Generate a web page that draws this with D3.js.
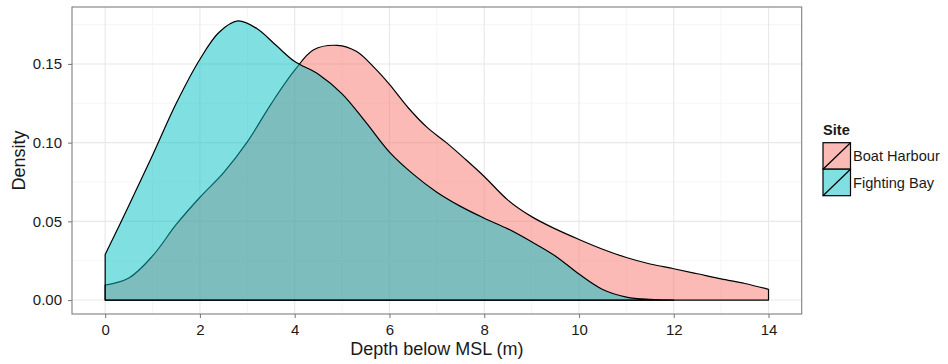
<!DOCTYPE html>
<html>
<head>
<meta charset="utf-8">
<script src="https://cdn.jsdelivr.net/npm/d3@7"></script>
<style>
  body { margin: 0; background: #fff; }
  text { font-family: "Liberation Sans", Arial, sans-serif; fill: #1a1a1a; }
</style>
</head>
<body>
<svg id="chart" width="948" height="364"></svg>
<script>
// density estimates
const sites = ["Boat Harbour", "Fighting Bay"];
const siteColours = ["#F8766D", "#00BFC4"];

const depthBH = [0, 0.5, 1, 1.5, 2, 2.5, 3, 3.5, 4, 4.4, 4.9, 5.3, 5.7, 6, 6.4, 6.8, 7.2, 7.6, 8, 8.5, 9, 9.5, 10, 10.5, 11, 11.5, 12, 12.5, 13, 13.5, 14];
const densBH = [0.0095, 0.014, 0.028, 0.048, 0.0653, 0.081, 0.1005, 0.1245, 0.146, 0.159, 0.1618, 0.158, 0.147, 0.137, 0.122, 0.1095, 0.1, 0.0895, 0.0785, 0.0635, 0.053, 0.0452, 0.0385, 0.0323, 0.027, 0.0229, 0.0199, 0.0167, 0.0134, 0.0105, 0.0068];

const depthFB = [0, 0.5, 1, 1.5, 2, 2.4, 2.8, 3.2, 3.6, 4, 4.5, 5, 5.5, 6, 6.5, 7, 7.5, 8, 8.5, 9, 9.5, 10, 10.5, 11, 11.5, 12];
const densFB = [0.029, 0.060, 0.092, 0.125, 0.153, 0.170, 0.1773, 0.1725, 0.162, 0.1515, 0.1435, 0.131, 0.113, 0.094, 0.080, 0.0685, 0.0595, 0.052, 0.0452, 0.037, 0.028, 0.0165, 0.0067, 0.0019, 0.0004, 0.0];

const xTicks = [0, 2, 4, 6, 8, 10, 12, 14];
const xMinor = [1, 3, 5, 7, 9, 11, 13];
const yTicks = [0, 0.05, 0.10, 0.15];
const yMinor = [0.025, 0.075, 0.125, 0.175];

const series = [
  { site: sites[0], pts: depthBH.map((d, i) => [d, densBH[i]]) },
  { site: sites[1], pts: depthFB.map((d, i) => [d, densFB[i]]) }
];

const panel = { left: 72, right: 801.7, top: 7, bottom: 314 };

const svg = d3.select("#chart");

// ggplot style 5% expansion
const xMin = 0, xMax = 14;
const xPad = (xMax - xMin) * 0.05;
const x = d3.scaleLinear().domain([xMin - xPad, xMax + xPad]).range([panel.left, panel.right]);

const yMax = d3.max(series, s => d3.max(s.pts, p => p[1]));
const yPad = yMax * 0.05;
const y = d3.scaleLinear().domain([-yPad, yMax + yPad]).range([panel.bottom, panel.top]);

const colour = d3.scaleOrdinal().domain(sites).range(siteColours);

// panel background + grid
svg.append("rect")
  .attr("x", panel.left).attr("y", panel.top)
  .attr("width", panel.right - panel.left).attr("height", panel.bottom - panel.top)
  .attr("fill", "#fff");

const grid = svg.append("g");
grid.selectAll(".xminor").data(xMinor).enter().append("line")
  .attr("x1", d => x(d)).attr("x2", d => x(d))
  .attr("y1", panel.top).attr("y2", panel.bottom)
  .attr("stroke", "#f6f6f6").attr("stroke-width", 1.1);
grid.selectAll(".yminor").data(yMinor).enter().append("line")
  .attr("x1", panel.left).attr("x2", panel.right)
  .attr("y1", d => y(d)).attr("y2", d => y(d))
  .attr("stroke", "#f6f6f6").attr("stroke-width", 1.1);
grid.selectAll(".xmajor").data(xTicks).enter().append("line")
  .attr("x1", d => x(d)).attr("x2", d => x(d))
  .attr("y1", panel.top).attr("y2", panel.bottom)
  .attr("stroke", "#e8e8e8").attr("stroke-width", 1.1);
grid.selectAll(".ymajor").data(yTicks).enter().append("line")
  .attr("x1", panel.left).attr("x2", panel.right)
  .attr("y1", d => y(d)).attr("y2", d => y(d))
  .attr("stroke", "#e8e8e8").attr("stroke-width", 1.1);

// density areas
const area = d3.area()
  .x(d => x(d[0]))
  .y0(y(0))
  .y1(d => y(Math.max(0, d[1])))
  .curve(d3.curveCatmullRom.alpha(0.5));

svg.append("g").selectAll("path")
  .data(series)
  .enter()
  .append("path")
  .attr("d", d => area(d.pts))
  .attr("fill", d => colour(d.site))
  .attr("fill-opacity", 0.5)
  .attr("stroke", "#000")
  .attr("stroke-width", 1.2)
  .attr("stroke-linejoin", "round");

// panel border
svg.append("rect")
  .attr("x", panel.left).attr("y", panel.top)
  .attr("width", panel.right - panel.left).attr("height", panel.bottom - panel.top)
  .attr("fill", "none").attr("stroke", "#7f7f7f").attr("stroke-width", 1.1);

// axes
const xAxis = svg.append("g")
  .attr("transform", "translate(0," + panel.bottom + ")")
  .call(d3.axisBottom(x).tickValues(xTicks).tickSize(4).tickPadding(6).tickFormat(d3.format("d")));
xAxis.select(".domain").remove();
xAxis.selectAll("line").attr("stroke", "#7f7f7f").attr("stroke-width", 1.1);
xAxis.selectAll("text").attr("font-size", 15).attr("fill", "#1a1a1a")
  .attr("font-family", "Liberation Sans, Arial, sans-serif");

const yAxis = svg.append("g")
  .attr("transform", "translate(" + panel.left + ",0)")
  .call(d3.axisLeft(y).tickValues(yTicks).tickSize(4).tickPadding(6).tickFormat(d3.format(".2f")));
yAxis.select(".domain").remove();
yAxis.selectAll("line").attr("stroke", "#7f7f7f").attr("stroke-width", 1.1);
yAxis.selectAll("text").attr("font-size", 15).attr("fill", "#1a1a1a")
  .attr("font-family", "Liberation Sans, Arial, sans-serif");

// axis titles
svg.append("text")
  .attr("x", (panel.left + panel.right) / 2).attr("y", 355)
  .attr("text-anchor", "middle").attr("font-size", 18)
  .text("Depth below MSL (m)");

svg.append("text")
  .attr("transform", "translate(24.6," + (panel.top + panel.bottom) / 2 + ") rotate(-90)")
  .attr("text-anchor", "middle").attr("font-size", 18)
  .text("Density");

// legend
const legend = svg.append("g").attr("transform", "translate(823,0)");
legend.append("text")
  .attr("x", 0).attr("y", 135)
  .attr("font-size", 14.6).attr("font-weight", "bold")
  .text("Site");

const keyW = 27.5, keyH = 26.5, keyTop = 142.7;
const keys = legend.selectAll(".key").data(sites).enter().append("g")
  .attr("transform", (d, i) => "translate(0," + (keyTop + i * keyH) + ")");
keys.append("rect")
  .attr("width", keyW).attr("height", keyH)
  .attr("fill", "#fff");
keys.append("rect")
  .attr("width", keyW).attr("height", keyH)
  .attr("fill", d => colour(d)).attr("fill-opacity", 0.5)
  .attr("stroke", "#000").attr("stroke-width", 1.2);
keys.append("line")
  .attr("x1", 0).attr("y1", keyH).attr("x2", keyW).attr("y2", 0)
  .attr("stroke", "#000").attr("stroke-width", 1.2);
keys.append("text")
  .attr("x", keyW + 2.5).attr("y", keyH / 2 + 5.2)
  .attr("font-size", 14.6)
  .text(d => d);
</script>
</body>
</html>
